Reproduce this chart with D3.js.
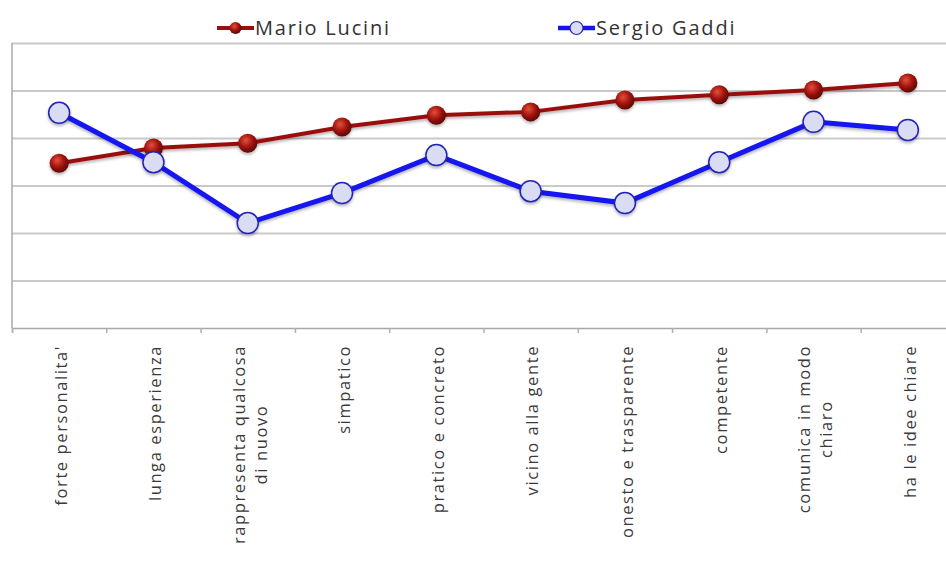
<!DOCTYPE html>
<html>
<head>
<meta charset="utf-8">
<script src="https://cdn.jsdelivr.net/npm/d3@7"></script>
<style>
  html, body { margin: 0; padding: 0; background: #fff; }
  svg { display: block; font-family: "Open Sans", "DejaVu Sans", sans-serif; }
</style>
</head>
<body>
<div id="chart"></div>
<script>
// chart data
const categories = [
    ["forte personalita'"],
    ["lunga esperienza"],
    ["rappresenta qualcosa", "di nuovo"],
    ["simpatico"],
    ["pratico e concreto"],
    ["vicino alla gente"],
    ["onesto e trasparente"],
    ["competente"],
    ["comunica in modo", "chiaro"],
    ["ha le idee chiare"]
];
const seriesNames = ["Mario Lucini", "Sergio Gaddi"];
const luciniValues = [3.47, 3.79, 3.89, 4.23, 4.48, 4.55, 4.80, 4.91, 5.01, 5.16];
const gaddiValues = [4.53, 3.49, 2.21, 2.84, 3.64, 2.88, 2.63, 3.49, 4.34, 4.17];
const gridValues = [1, 2, 3, 4, 5, 6];

const width = 946, height = 562;
const plot = { left: 12, top: 43, right: 955, bottom: 328 };

const svg = d3.select('#chart').append('svg')
    .attr('width', width)
    .attr('height', height);

const defs = svg.append('defs');
const grad = defs.append('radialGradient')
    .attr('id', 'redBall')
    .attr('cx', '40%').attr('cy', '35%').attr('r', '65%');
grad.append('stop').attr('offset', '0%').attr('stop-color', '#e0503c');
grad.append('stop').attr('offset', '55%').attr('stop-color', '#a3140e');
grad.append('stop').attr('offset', '100%').attr('stop-color', '#5c0604');

const shadow = defs.append('filter').attr('id', 'shadow')
    .attr('x', '-20%').attr('y', '-20%').attr('width', '140%').attr('height', '160%');
shadow.append('feDropShadow')
    .attr('dx', 0).attr('dy', 2).attr('stdDeviation', 1.8)
    .attr('flood-color', '#000').attr('flood-opacity', 0.3);

// scales
const x = d3.scaleBand()
    .domain(d3.range(categories.length))
    .range([plot.left, plot.right]);

const xEdges = d3.scaleLinear()
    .domain([0, categories.length])
    .range([plot.left, plot.right]);

const y = d3.scaleLinear()
    .domain([0, 6])
    .range([plot.bottom, plot.top]);

// gridlines
const grid = svg.append('g')
    .attr('transform', `translate(${plot.left},0)`)
    .call(d3.axisLeft(y).tickValues(gridValues).tickSize(-(plot.right - plot.left)).tickFormat(''));
grid.select('.domain').remove();
grid.selectAll('.tick line').attr('stroke', '#c9c9c9').attr('stroke-width', 2);

// left axis line
svg.append('line')
    .attr('x1', plot.left).attr('x2', plot.left)
    .attr('y1', plot.top).attr('y2', plot.bottom)
    .attr('stroke', '#a8a8a8').attr('stroke-width', 1.5);

// bottom axis with ticks at category boundaries
const xAxis = svg.append('g')
    .attr('transform', `translate(0,${plot.bottom})`)
    .call(d3.axisBottom(xEdges).tickValues(d3.range(categories.length + 1)).tickSize(5).tickFormat(''));
xAxis.select('.domain').attr('stroke', '#a8a8a8').attr('stroke-width', 1.5);
xAxis.selectAll('.tick line').attr('stroke', '#b0b0b0').attr('stroke-width', 1.5);

// category labels, rotated
const labelTop = 345;
const lineGap = 22;
categories.forEach((lines, i) => {
    const cx = x(i) + x.bandwidth() / 2 + 2;
    const g = svg.append('g')
        .attr('transform', `translate(${cx},${labelTop}) rotate(-90)`);
    const texts = lines.map(t => g.append('text')
        .attr('font-size', 16.5)
        .attr('letter-spacing', 1.6)
        .attr('fill', '#3a3a3a')
        .attr('text-anchor', 'middle')
        .text(t));
    const maxW = d3.max(texts, t => t.node().getComputedTextLength());
    const offset0 = -(lines.length - 1) * lineGap / 2;
    texts.forEach((t, j) => {
        t.attr('x', -maxW / 2)
         .attr('y', offset0 + j * lineGap)
         .attr('dy', '0.35em');
    });
});

// lines
const line = d3.line()
    .x((d, i) => x(i) + x.bandwidth() / 2)
    .y(d => y(d));

svg.append('path')
    .datum(luciniValues)
    .attr('fill', 'none')
    .attr('stroke', '#9a0f0c')
    .attr('stroke-width', 4)
    .attr('filter', 'url(#shadow)')
    .attr('d', line);

svg.append('g').selectAll('circle')
    .data(luciniValues)
    .enter()
    .append('circle')
    .attr('cx', (d, i) => x(i) + x.bandwidth() / 2)
    .attr('cy', d => y(d))
    .attr('r', 9.5)
    .attr('fill', 'url(#redBall)')
    .attr('filter', 'url(#shadow)');

svg.append('path')
    .datum(gaddiValues)
    .attr('fill', 'none')
    .attr('stroke', '#1414f0')
    .attr('stroke-width', 5)
    .attr('filter', 'url(#shadow)')
    .attr('d', line);

svg.append('g').selectAll('circle')
    .data(gaddiValues)
    .enter()
    .append('circle')
    .attr('cx', (d, i) => x(i) + x.bandwidth() / 2)
    .attr('cy', d => y(d))
    .attr('r', 10.5)
    .attr('fill', '#d9dcf3')
    .attr('stroke', '#2424b8')
    .attr('stroke-width', 1.5)
    .attr('filter', 'url(#shadow)');

// legend
const legendItems = [
    { name: seriesNames[0], x: 217, color: '#9a0f0c', red: true },
    { name: seriesNames[1], x: 558, color: '#1414f0', red: false }
];
legendItems.forEach(it => {
    const g = svg.append('g').attr('transform', `translate(${it.x},28)`);
    g.append('line')
        .attr('x1', 0).attr('x2', 37)
        .attr('stroke', it.color)
        .attr('stroke-width', it.red ? 4 : 4.5);
    g.append('circle')
        .attr('cx', 18.5).attr('cy', 0)
        .attr('r', it.red ? 6 : 6.5)
        .attr('fill', it.red ? 'url(#redBall)' : '#d9dcf3')
        .attr('stroke', it.red ? 'none' : '#2424b8')
        .attr('stroke-width', 1.2);
    g.append('text')
        .attr('x', 38)
        .attr('dy', '0.35em')
        .attr('font-size', 20)
        .attr('letter-spacing', 1.8)
        .attr('fill', '#333')
        .text(it.name);
});
</script>
</body>
</html>
